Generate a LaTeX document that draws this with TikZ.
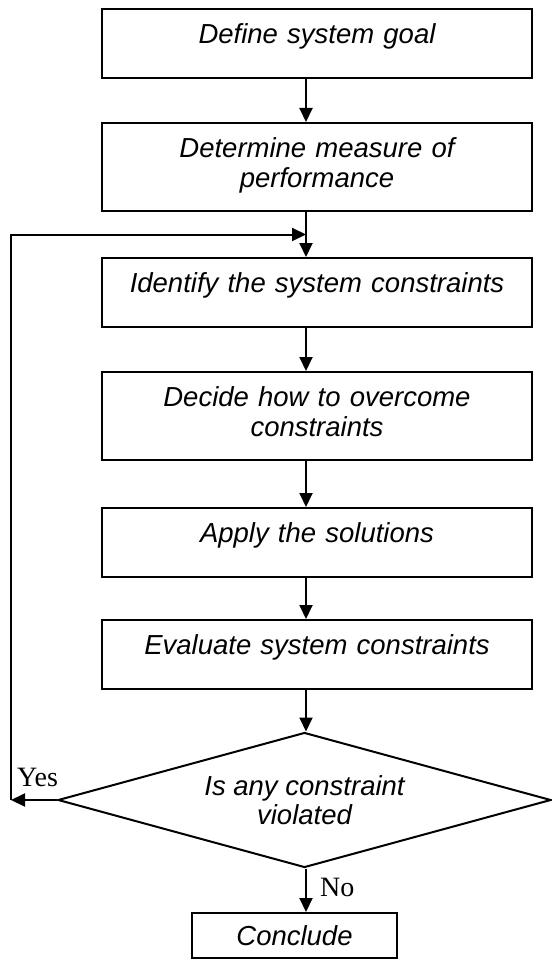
\documentclass[tikz,border=0pt]{standalone}
\usepackage{fontspec}
\setmainfont{Liberation Serif}
\setsansfont{Liberation Sans}
\usetikzlibrary{arrows.meta,calc}
\usetikzlibrary{shapes.geometric}

\tikzset{
  stepbox/.style={draw, line width=2pt, anchor=north, text width=400pt,
    align=center, inner xsep=15pt, inner ysep=15pt, text height=19.5pt,
    font=\sffamily\itshape\fontsize{27.5}{29.5}\selectfont},
  oneline/.style={text depth=19.5pt},
  twoline/.style={text depth=38.5pt},
  endbox/.style={stepbox, text width=175pt, text depth=0pt, inner ysep=12.5pt},
  decide/.style={draw, diamond, line width=2pt, aspect=3.65, inner sep=0pt,
    minimum width=493pt, minimum height=135pt, align=center,
    font=\sffamily\itshape\fontsize{27.5}{29.5}\selectfont},
  answer/.style={anchor=base west, inner sep=0pt, font=\rmfamily\fontsize{28}{32}\selectfont},
  flow/.style={line width=2pt, -{Triangle[length=14pt,width=13pt]}}
}

\begin{document}
\begin{tikzpicture}[x=1pt, y=-1pt]
\useasboundingbox (0,0) rectangle (551,960);
%\draw[step=50,gray,very thin] (0,0) grid (551,960);
\coordinate (ax) at (306,0);%%
\node[stepbox, oneline] (goal) at (317,8) {Define system goal};%%
\node[stepbox, twoline] (measure) at (317,122) {Determine measure of\\performance};%%
\node[stepbox, oneline] (identify) at (317,257) {Identify the system constraints};%%
\node[stepbox, twoline] (overcome) at (317,371) {Decide how to overcome\\constraints};%%
\node[stepbox, oneline] (apply) at (317,507) {Apply the solutions};%%
\node[stepbox, oneline] (evaluate) at (317,619) {Evaluate system constraints};%%
\node[decide] (violated) at (304.5,800) {Is any constraint\\violated};%%
\node[endbox] (conclude) at (294.5,912) {Conclude};%%
\coordinate (join) at ($(measure.south -| ax)!.5!(identify.north -| ax)$);%%
\coordinate (back) at (11,800);%%
\draw[flow] (goal.south -| ax) -- (measure.north -| ax);%%
\draw[flow] (measure.south -| ax) -- (identify.north -| ax);%%
\draw[flow] (identify.south -| ax) -- (overcome.north -| ax);%%
\draw[flow] (overcome.south -| ax) -- (apply.north -| ax);%%
\draw[flow] (apply.south -| ax) -- (evaluate.north -| ax);%%
\draw[flow] (evaluate.south -| ax) -- (violated.north -| ax);%%
\draw[flow] (violated.south -| ax) -- (conclude.north -| ax);%%
\draw[flow] (violated.west) -- (back);%%
\draw[flow] (back) |- (join);%%
\node[answer] (yes) at ([xshift=6pt,yshift=14pt]back) {Yes};%%
\node[answer] (no) at ([xshift=14pt,yshift=-28pt]violated.south -| ax) {No};%%
\end{tikzpicture}
\end{document}
